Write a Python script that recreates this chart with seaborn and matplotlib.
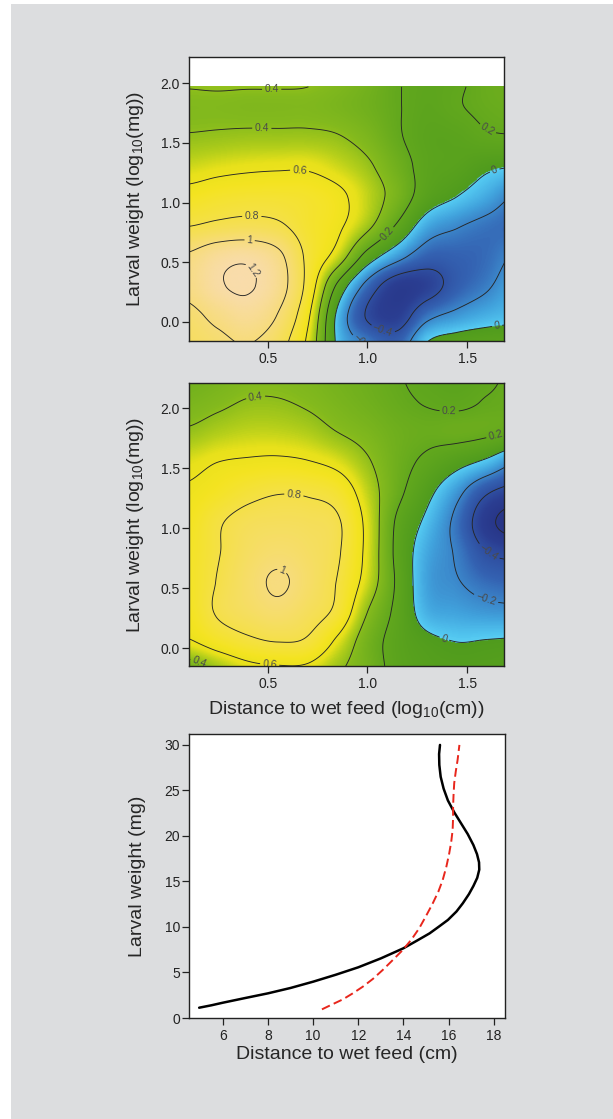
import numpy as np
import pandas as pd
import matplotlib
matplotlib.use("Agg")
import matplotlib.pyplot as plt
import seaborn as sns
from matplotlib.colors import LinearSegmentedColormap, Normalize
from matplotlib.patches import Rectangle

# ---------------- data ----------------
dist_log = [0.10, 0.25, 0.40, 0.55, 0.70, 0.85, 1.00, 1.15, 1.30, 1.45, 1.60, 1.75]

weight_log_top = [-0.20, 0.05, 0.30, 0.55, 0.80, 1.05, 1.30, 1.55, 1.80, 2.05]
surface_top = [
    [0.90, 0.95, 1.00, 0.88, 0.56, -0.03, -0.21, -0.30, 0.02, 0.10, 0.12, 0.12],
    [0.95, 1.05, 1.12, 0.99, 0.64, -0.04, -0.42, -0.50, -0.25, -0.15, -0.08, -0.04],
    [1.05, 1.18, 1.215, 1.09, 0.74, 0.16, -0.27, -0.52, -0.48, -0.32, -0.22, -0.10],
    [1.02, 1.13, 1.16, 1.05, 0.76, 0.52, 0.12, -0.13, -0.30, -0.30, -0.27, -0.18],
    [0.80, 0.84, 0.86, 0.83, 0.72, 0.63, 0.44, 0.17, -0.10, -0.19, -0.25, -0.28],
    [0.66, 0.70, 0.72, 0.72, 0.70, 0.64, 0.50, 0.32, 0.10, 0.00, -0.10, -0.22],
    [0.52, 0.55, 0.57, 0.58, 0.58, 0.52, 0.43, 0.28, 0.14, 0.10, 0.03, 0.00],
    [0.41, 0.42, 0.43, 0.43, 0.43, 0.41, 0.34, 0.22, 0.13, 0.13, 0.18, 0.19],
    [0.37, 0.37, 0.36, 0.36, 0.36, 0.33, 0.28, 0.21, 0.15, 0.19, 0.23, 0.25],
    [0.42, 0.43, 0.43, 0.43, 0.42, 0.37, 0.30, 0.21, 0.16, 0.18, 0.24, 0.26],
]
top_data_ymax = 1.97

weight_log_mid = [-0.20, 0.05, 0.30, 0.55, 0.80, 1.05, 1.30, 1.55, 1.80, 2.05, 2.30]
surface_mid = [
    [0.28, 0.42, 0.53, 0.56, 0.55, 0.42, 0.30, 0.14, 0.08, 0.06, 0.06, 0.07],
    [0.58, 0.68, 0.76, 0.80, 0.77, 0.56, 0.30, 0.13, 0.04, 0.00, 0.01, 0.02],
    [0.66, 0.82, 0.90, 0.95, 0.88, 0.75, 0.40, 0.15, -0.08, -0.12, -0.15, -0.16],
    [0.68, 0.81, 0.93, 1.02, 0.93, 0.79, 0.52, 0.17, -0.12, -0.19, -0.27, -0.30],
    [0.68, 0.79, 0.90, 0.95, 0.91, 0.82, 0.55, 0.15, -0.10, -0.22, -0.40, -0.45],
    [0.66, 0.78, 0.86, 0.88, 0.87, 0.82, 0.55, 0.17, -0.04, -0.25, -0.54, -0.70],
    [0.62, 0.68, 0.75, 0.79, 0.78, 0.72, 0.50, 0.25, 0.05, -0.15, -0.38, -0.48],
    [0.55, 0.60, 0.62, 0.63, 0.61, 0.55, 0.42, 0.27, 0.16, 0.06, -0.04, -0.20],
    [0.42, 0.47, 0.50, 0.50, 0.47, 0.40, 0.34, 0.27, 0.24, 0.25, 0.23, 0.19],
    [0.33, 0.37, 0.41, 0.41, 0.38, 0.33, 0.28, 0.23, 0.19, 0.17, 0.21, 0.23],
    [0.27, 0.31, 0.35, 0.36, 0.34, 0.30, 0.26, 0.21, 0.15, 0.12, 0.16, 0.24],
]

contour_levels = [-0.6, -0.4, -0.2, 0.0, 0.2, 0.4, 0.6, 0.8, 1.0, 1.2]

black_dist = [4.95, 5.5, 6.0, 7.0, 8.0, 9.0, 10.0, 11.0, 12.0, 13.0, 14.0, 14.6,
              15.16, 15.55, 15.97, 16.35, 16.63, 16.9, 17.1, 17.27, 17.36, 17.35,
              17.26, 17.1, 16.85, 16.55, 16.25, 15.97, 15.78, 15.65, 15.59,
              15.58, 15.62]
black_weight = [1.13, 1.4, 1.68, 2.2, 2.71, 3.3, 3.99, 4.75, 5.57, 6.55, 7.66, 8.5,
                9.3, 10.0, 10.77, 11.7, 12.6, 13.6, 14.5, 15.4, 16.3, 17.1,
                18.0, 19.0, 20.2, 21.4, 22.6, 23.9, 25.2, 26.5, 27.8,
                29.0, 30.0]
red_dist = [10.39, 10.85, 11.32, 11.75, 12.2, 12.65, 13.08, 13.5, 13.97, 14.35,
            14.7, 15.0, 15.3, 15.55, 15.74, 15.9, 16.03, 16.12, 16.18, 16.2,
            16.2, 16.22, 16.25, 16.32, 16.4, 16.48]
red_weight = [0.95, 1.5, 2.05, 2.7, 3.44, 4.3, 5.27, 6.3, 7.47, 8.6,
              9.86, 11.2, 12.6, 13.9, 15.16, 16.6, 18.1, 19.4, 20.66, 22.0,
              23.2, 24.5, 25.8, 27.1, 28.35, 30.0]

# ---------------- style ----------------
sns.set_theme(style="ticks")
plt.rcParams["font.family"] = ["Liberation Sans", "DejaVu Sans"]
plt.rcParams["mathtext.fontset"] = "custom"
plt.rcParams["mathtext.rm"] = "Liberation Sans"
plt.rcParams["mathtext.it"] = "Liberation Sans:italic"
plt.rcParams["axes.edgecolor"] = "#222222"
plt.rcParams["axes.linewidth"] = 1.0
plt.rcParams["xtick.color"] = "#222222"
plt.rcParams["ytick.color"] = "#222222"
plt.rcParams["contour.negative_linestyle"] = "solid"

cmap = LinearSegmentedColormap.from_list("surf", [
    (0.000, "#263181"),
    (0.100, "#2b3e92"),
    (0.200, "#3462b2"),
    (0.290, "#41a3dd"),
    (0.340, "#52c6f0"),
    (0.3499, "#5acef3"),
    (0.3501, "#4f9b1d"),
    (0.450, "#62a81e"),
    (0.540, "#84ba1d"),
    (0.590, "#b5cf1a"),
    (0.630, "#e8e11b"),
    (0.680, "#f4e421"),
    (0.760, "#f5e04c"),
    (0.850, "#f7dc7a"),
    (0.950, "#f9dca8"),
    (1.000, "#f9dfb4"),
])
norm = Normalize(vmin=-0.7, vmax=1.3)


def keys(s):
    a = -0.5
    s = abs(s)
    if s <= 1:
        return (a + 2) * s**3 - (a + 3) * s**2 + 1
    if s < 2:
        return a * s**3 - 5 * a * s**2 + 8 * a * s - 4 * a
    return 0.0


def cubic_matrix(xc, xf):
    xc = np.asarray(xc, float)
    n = len(xc)
    h = xc[1] - xc[0]
    W = np.zeros((len(xf), n))
    for i, x in enumerate(xf):
        t = (x - xc[0]) / h
        k = int(np.floor(t))
        for j in range(k - 1, k + 3):
            w = keys(t - j)
            W[i, min(max(j, 0), n - 1)] += w
    return W


def fmt(v):
    s = f"{v:.1f}".rstrip("0").rstrip(".")
    if s in ("-0", "0"):
        return "0"
    return s.replace("-", "\u2212")


def surface_panel(ax, ycoarse, zcoarse, ymax_data, label_pos):
    xf = np.linspace(dist_log[0], dist_log[-1], 320)
    yf = np.linspace(ycoarse[0], ymax_data, 320)
    Z = np.asarray(zcoarse, float)
    Zf = cubic_matrix(ycoarse, yf) @ Z @ cubic_matrix(dist_log, xf).T
    ax.imshow(Zf, extent=[xf[0], xf[-1], yf[0], yf[-1]], origin="lower",
              aspect="auto", cmap=cmap, norm=norm, interpolation="bilinear")
    cs = ax.contour(xf, yf, Zf, levels=contour_levels, colors="#262626",
                    linewidths=0.65, linestyles="solid")
    ax.clabel(cs, manual=label_pos, fmt=fmt, fontsize=7.5, colors="#4a4a4a",
              inline=True, inline_spacing=2)
    ax.set_xlim(0.105, 1.685)
    ax.set_xticks([0.5, 1.0, 1.5])
    ax.set_xticklabels(["0.5", "1.0", "1.5"])
    ax.set_yticks([0.0, 0.5, 1.0, 1.5, 2.0])
    ax.set_yticklabels(["0.0", "0.5", "1.0", "1.5", "2.0"])
    ax.set_facecolor("white")
    for s in ax.spines.values():
        s.set_visible(True)
        s.set_color("#222222")


fig = plt.figure(figsize=(6.13, 11.19), dpi=100)
fig.patch.set_facecolor("white")
fig.patches.append(Rectangle((11 / 613, 0), 1 - 11 / 613, 1 - 4 / 1119,
                             transform=fig.transFigure, facecolor="#dcdddf",
                             edgecolor="none", zorder=-10))

W_, H_ = 613.0, 1119.0
ax1 = fig.add_axes([189 / W_, 1 - 341 / H_, 315 / W_, 284 / H_])
ax2 = fig.add_axes([189 / W_, 1 - 666 / H_, 315 / W_, 283 / H_])
ax3 = fig.add_axes([189 / W_, 1 - 1018 / H_, 316 / W_, 284 / H_])

surface_panel(ax1, weight_log_top, surface_top, top_data_ymax, [
    (0.52, 1.88), (0.47, 1.61), (0.66, 1.27), (0.42, 0.87), (0.41, 0.70),
    (0.39, 0.40), (1.10, 0.74), (1.60, 1.61), (1.65, 1.22), (1.09, -0.02),
    (1.00, -0.13), (1.65, -0.03)])
ax1.set_ylim(-0.16, 2.22)

surface_panel(ax2, weight_log_mid, surface_mid, weight_log_mid[-1], [
    (0.44, 2.08), (1.41, 1.96), (1.65, 1.73), (0.63, 1.26), (0.56, 0.60),
    (1.60, 0.78), (1.60, 0.44), (1.38, 0.05), (0.51, -0.13), (0.16, -0.11)])
ax2.set_ylim(-0.15, 2.21)

ylab_log = r"Larval weight (log$_{10}$(mg))"
for ax in (ax1, ax2):
    ax.set_ylabel(ylab_log, fontsize=14)
    ax.yaxis.set_label_coords(-0.135, 0.5)
ax1.set_xlabel("")
ax2.set_xlabel(r"Distance to wet feed (log$_{10}$(cm))", fontsize=14)
ax2.xaxis.set_label_coords(0.5, -0.115)

# ---- bottom line panel ----
df_black = pd.DataFrame({"dist": black_dist, "weight": black_weight})
df_red = pd.DataFrame({"dist": red_dist, "weight": red_weight})
sns.lineplot(data=df_black, x="dist", y="weight", sort=False, estimator=None,
             color="black", linewidth=1.8, ax=ax3)
sns.lineplot(data=df_red, x="dist", y="weight", sort=False, estimator=None,
             color="#e8261c", linewidth=1.4, ax=ax3)
ax3.lines[-1].set_linestyle((0, (4.5, 2.2)))
ax3.set_xlim(4.5, 18.5)
ax3.set_ylim(0, 31.2)
ax3.set_xticks([6, 8, 10, 12, 14, 16, 18])
ax3.set_yticks([0, 5, 10, 15, 20, 25, 30])
ax3.set_facecolor("white")
for s in ax3.spines.values():
    s.set_visible(True)
    s.set_color("#222222")
ax3.set_ylabel("Larval weight (mg)", fontsize=14)
ax3.yaxis.set_label_coords(-0.135, 0.5)
ax3.set_xlabel("Distance to wet feed (cm)", fontsize=14)
ax3.xaxis.set_label_coords(0.5, -0.098)

for ax in (ax1, ax2, ax3):
    ax.tick_params(axis="both", which="major", labelsize=10, length=5,
                   width=0.9, direction="out")
    ax.tick_params(axis="y", pad=1.5)
    ax.tick_params(axis="x", pad=3)

fig.savefig("out.png", dpi=100, facecolor=fig.get_facecolor())
